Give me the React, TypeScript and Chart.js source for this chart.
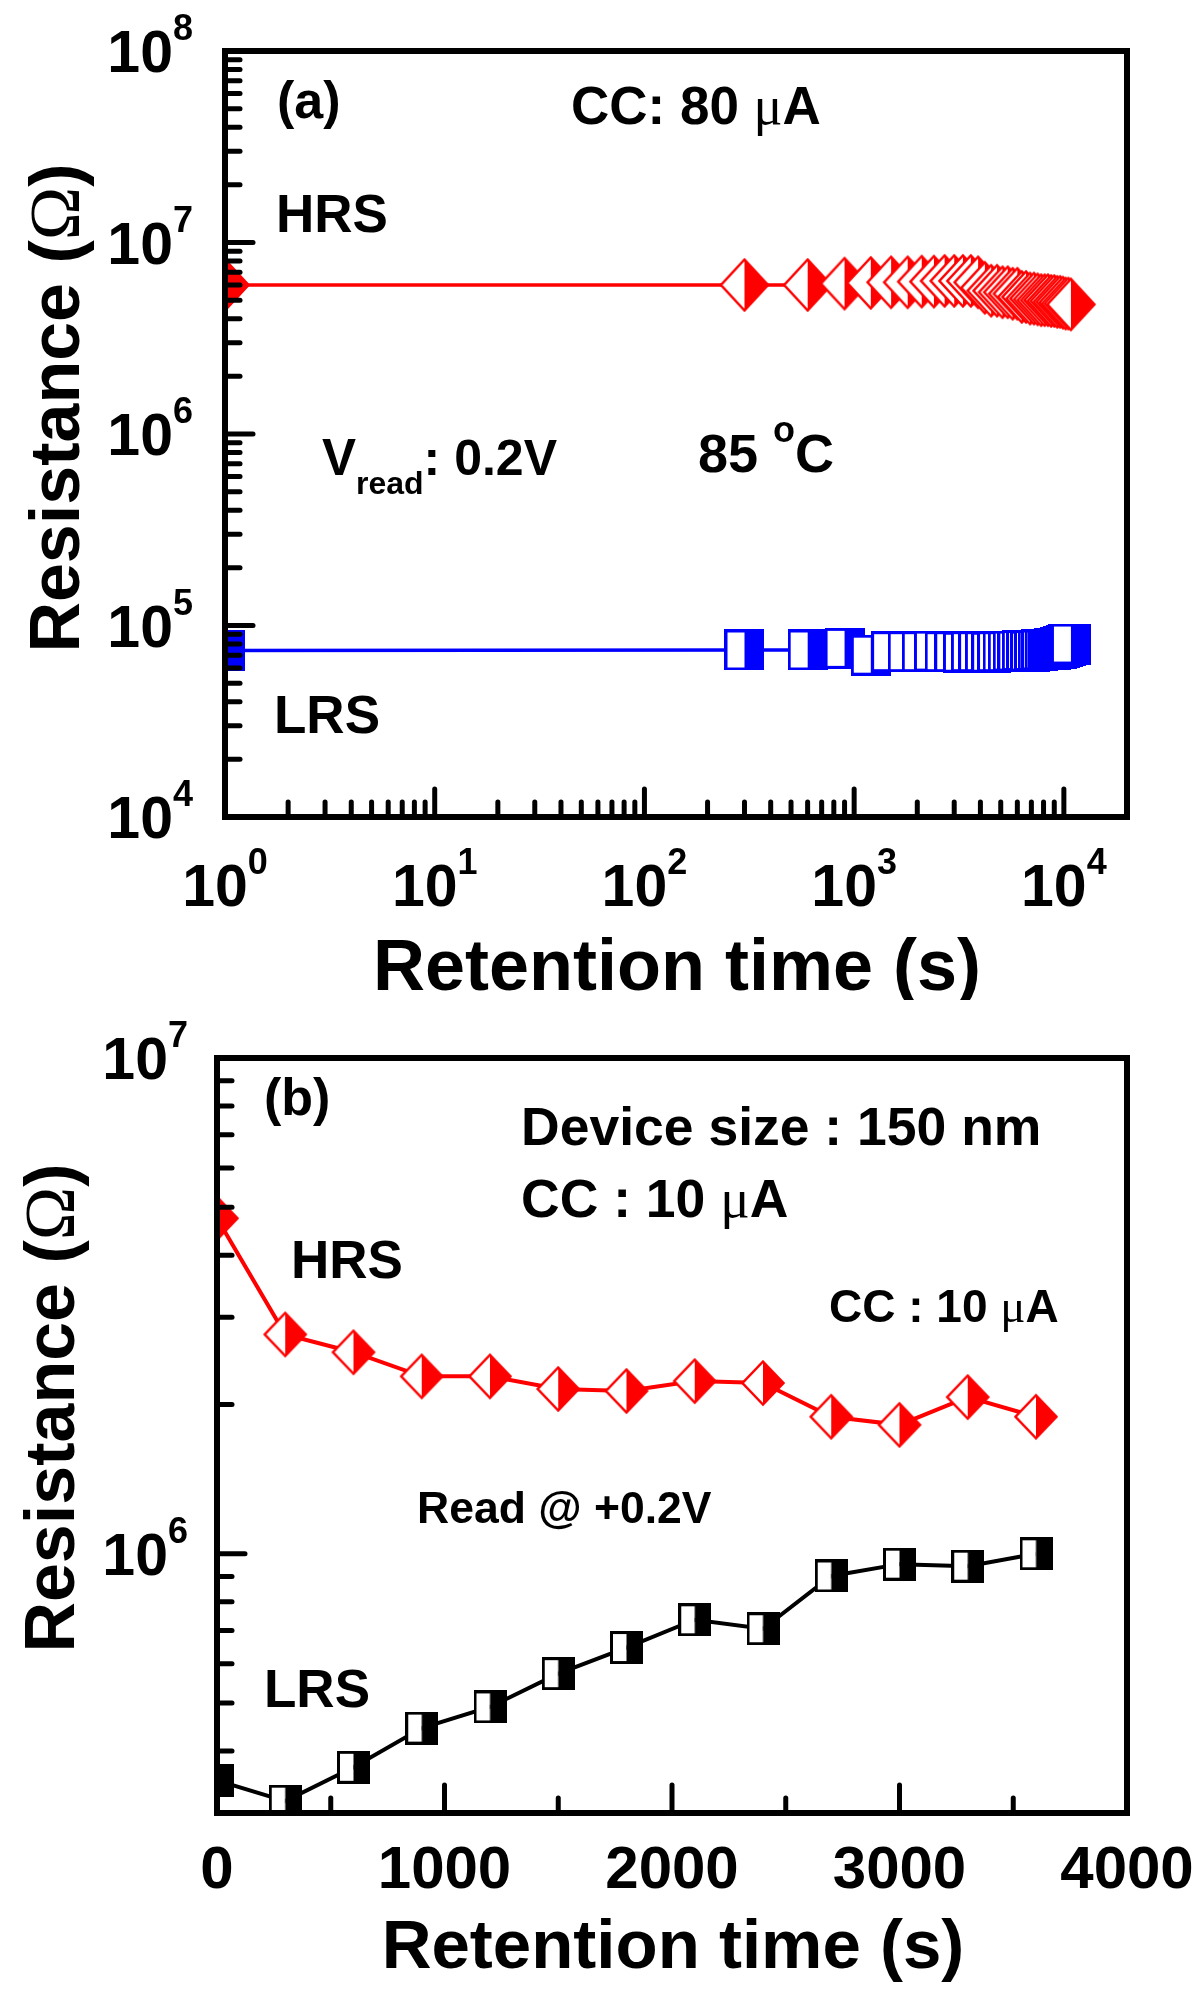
import React, { useEffect, useRef } from 'react';
import { Chart, registerables } from 'chart.js';

Chart.register(...registerables);

const SANS = '"Liberation Sans", Arial, Helvetica, sans-serif';
const SERIF = '"Liberation Serif", "Times New Roman", serif';

// ---------------- Panel (a) data ----------------
const timeA = [1, 300, 600, 900, 1200, 1500, 1800, 2100, 2400, 2700, 3000, 3300, 3600, 3900, 4200, 4500, 4800, 5100, 5400, 5700, 6000, 6300, 6600, 6900, 7200, 7500, 7800, 8100, 8400, 8700, 9000, 9300, 9600, 9900, 10200, 10500, 10800];
const hrsA = [6.0e6, 6.0e6, 6.0e6, 6.1e6, 6.15e6, 6.2e6, 6.2e6, 6.25e6, 6.25e6, 6.3e6, 6.3e6, 6.3e6, 6.3e6, 6.2e6, 5.8e6, 5.6e6, 5.6e6, 5.5e6, 5.5e6, 5.4e6, 5.4e6, 5.2e6, 5.2e6, 5.1e6, 5.1e6, 5.05e6, 5.0e6, 5.0e6, 5.0e6, 4.95e6, 4.95e6, 4.9e6, 4.9e6, 4.85e6, 4.8e6, 4.8e6, 4.75e6];
const lrsA = [7.4e4, 7.45e4, 7.45e4, 7.6e4, 7.0e4, 7.3e4, 7.3e4, 7.3e4, 7.35e4, 7.3e4, 7.3e4, 7.25e4, 7.3e4, 7.3e4, 7.3e4, 7.25e4, 7.3e4, 7.3e4, 7.3e4, 7.35e4, 7.35e4, 7.4e4, 7.4e4, 7.35e4, 7.4e4, 7.4e4, 7.45e4, 7.45e4, 7.5e4, 7.5e4, 7.55e4, 7.6e4, 7.7e4, 7.8e4, 7.9e4, 8.0e4, 8.0e4];

// axis (a)
const xRangeA = [1, 20000];
const yRangeA = [1e4, 1e8];
const xDecadesA = [0, 1, 2, 3, 4];
const yDecadesA = [4, 5, 6, 7, 8];
const minorMultipliers = [2, 3, 4, 5, 6, 7, 8, 9];

// ---------------- Panel (b) data ----------------
const timeB = [0, 300, 600, 900, 1200, 1500, 1800, 2100, 2400, 2700, 3000, 3300, 3600];
const hrsB = [4.75e6, 2.77e6, 2.55e6, 2.28e6, 2.28e6, 2.15e6, 2.13e6, 2.23e6, 2.21e6, 1.89e6, 1.82e6, 2.07e6, 1.89e6];
const lrsB = [3.49e5, 3.17e5, 3.71e5, 4.45e5, 4.91e5, 5.73e5, 6.47e5, 7.36e5, 7.06e5, 9.02e5, 9.53e5, 9.44e5, 1.0e6];

// axis (b)
const xRangeB = [0, 4000];
const yRangeB = [3e5, 1e7];
const xMajorB = [0, 1000, 2000, 3000, 4000];
const xMinorB = [500, 1500, 2500, 3500];
const yDecadesB = [6, 7];
const yMinorB = [4e5, 5e5, 6e5, 7e5, 8e5, 9e5, 2e6, 3e6, 4e6, 5e6, 6e6, 7e6, 8e6, 9e6];

type Seg = { t: string; font: string; dy?: number };

function makeDiamond(W: number, H: number, color: string, lw: number) {
  const c = document.createElement('canvas');
  c.width = Math.ceil(W);
  c.height = Math.ceil(H);
  const g = c.getContext('2d')!;
  const cx = W / 2, cy = H / 2, hw = W / 2 - lw, hh = H / 2 - lw;
  g.beginPath();
  g.moveTo(cx, cy - hh); g.lineTo(cx - hw, cy); g.lineTo(cx, cy + hh); g.closePath();
  g.fillStyle = '#ffffff'; g.fill();
  g.beginPath();
  g.moveTo(cx, cy - hh); g.lineTo(cx + hw, cy); g.lineTo(cx, cy + hh); g.closePath();
  g.fillStyle = color; g.fill();
  g.beginPath();
  g.moveTo(cx, cy - hh); g.lineTo(cx + hw, cy); g.lineTo(cx, cy + hh); g.lineTo(cx - hw, cy); g.closePath();
  g.strokeStyle = color; g.lineWidth = lw; g.lineJoin = 'miter'; g.stroke();
  return c;
}

function makeSquare(W: number, H: number, color: string, lw: number) {
  const c = document.createElement('canvas');
  c.width = Math.ceil(W);
  c.height = Math.ceil(H);
  const g = c.getContext('2d')!;
  const x0 = lw / 2, y0 = lw / 2, w = W - lw, h = H - lw;
  g.fillStyle = '#ffffff'; g.fillRect(x0, y0, w / 2, h);
  g.fillStyle = color; g.fillRect(x0 + w / 2, y0, w / 2, h);
  g.strokeStyle = color; g.lineWidth = lw; g.strokeRect(x0, y0, w, h);
  return c;
}

function richWidth(ctx: CanvasRenderingContext2D, segs: Seg[]) {
  let w = 0;
  for (const s of segs) { ctx.font = s.font; w += ctx.measureText(s.t).width; }
  return w;
}

function drawRich(ctx: CanvasRenderingContext2D, segs: Seg[], x: number, y: number, align: 'left' | 'center' | 'right' = 'left') {
  const total = richWidth(ctx, segs);
  let cx = align === 'left' ? x : align === 'center' ? x - total / 2 : x - total;
  ctx.textAlign = 'left';
  ctx.textBaseline = 'alphabetic';
  ctx.fillStyle = '#000';
  for (const s of segs) {
    ctx.font = s.font;
    ctx.fillText(s.t, cx, y + (s.dy || 0));
    cx += ctx.measureText(s.t).width;
  }
}

const B = (n: number) => `bold ${n}px ${SANS}`;
const Sym = (n: number) => `${n}px ${SERIF}`;

function powSegs(exp: string): Seg[] {
  return [{ t: '10', font: B(59) }, { t: exp, font: B(36), dy: -32 }];
}

type PanelSpec = {
  xMajor: number[];
  xMinor: number[];
  yMajor: number[];
  yMinor: number[];
  xLabels: { v: number; segs: Seg[] }[];
  yLabels: { v: number; segs: Seg[] }[];
  xLabelBaseline: number;
  yLabelRight: number;
  yTitleX: number;
  yTitleY: number;
  xTitleX: number;
  xTitleY: number;
  xTitleSize: number;
  notes: { x: number; y: number; segs: Seg[] }[];
};

function panelPlugin(spec: PanelSpec) {
  return {
    id: 'panelDecor',
    afterDatasetsDraw(chart: any) {
      const ctx: CanvasRenderingContext2D = chart.ctx;
      const { left, right, top, bottom } = chart.chartArea;
      const xs = chart.scales.x, ys = chart.scales.y;
      ctx.save();
      // inward ticks
      ctx.strokeStyle = '#000';
      ctx.lineWidth = 5;
      ctx.lineCap = 'round';
      const seg = (x1: number, y1: number, x2: number, y2: number) => {
        ctx.beginPath(); ctx.moveTo(x1, y1); ctx.lineTo(x2, y2); ctx.stroke();
      };
      for (const v of spec.xMajor) {
        const p = xs.getPixelForValue(v);
        if (p > left + 4 && p < right - 4) seg(p, bottom, p, bottom - 28);
      }
      for (const v of spec.xMinor) {
        const p = xs.getPixelForValue(v);
        if (p > left + 4 && p < right - 4) seg(p, bottom, p, bottom - 15);
      }
      for (const v of spec.yMajor) {
        const p = ys.getPixelForValue(v);
        if (p > top + 4 && p < bottom - 4) seg(left, p, left + 28, p);
      }
      for (const v of spec.yMinor) {
        const p = ys.getPixelForValue(v);
        if (p > top + 4 && p < bottom - 4) seg(left, p, left + 15, p);
      }
      // frame
      ctx.lineCap = 'butt';
      ctx.lineJoin = 'miter';
      ctx.lineWidth = 6;
      ctx.strokeRect(left, top, right - left, bottom - top);
      // tick labels
      for (const l of spec.xLabels) {
        drawRich(ctx, l.segs, xs.getPixelForValue(l.v), spec.xLabelBaseline, 'center');
      }
      for (const l of spec.yLabels) {
        drawRich(ctx, l.segs, spec.yLabelRight, ys.getPixelForValue(l.v) + 21, 'right');
      }
      // axis titles
      drawRich(ctx, [{ t: 'Retention time (s)', font: B(spec.xTitleSize) }], spec.xTitleX, spec.xTitleY, 'center');
      ctx.save();
      ctx.translate(spec.yTitleX, spec.yTitleY);
      ctx.rotate(-Math.PI / 2);
      drawRich(ctx, [{ t: 'Resistance (', font: B(70) }, { t: 'Ω', font: Sym(72) }, { t: ')', font: B(70) }], 0, 0, 'center');
      ctx.restore();
      // annotations
      for (const n of spec.notes) drawRich(ctx, n.segs, n.x, n.y, 'left');
      ctx.restore();
    },
  };
}

export default function App() {
  const refA = useRef<HTMLCanvasElement>(null);
  const refB = useRef<HTMLCanvasElement>(null);

  useEffect(() => {
    const diamondA = makeDiamond(52, 56, '#ff0000', 2.5);
    const squareA = makeSquare(40, 41, '#0000ff', 3);
    const diamondB = makeDiamond(46, 48, '#ff0000', 2.5);
    const squareB = makeSquare(33, 33, '#000000', 3);

    const specA: PanelSpec = {
      xMajor: xDecadesA.map((d) => Math.pow(10, d)),
      xMinor: xDecadesA.flatMap((d) => minorMultipliers.map((m) => m * Math.pow(10, d))),
      yMajor: yDecadesA.map((d) => Math.pow(10, d)),
      yMinor: yDecadesA.flatMap((d) => minorMultipliers.map((m) => m * Math.pow(10, d))),
      xLabels: xDecadesA.map((d) => ({ v: Math.pow(10, d), segs: powSegs(String(d)) })),
      yLabels: yDecadesA.map((d) => ({ v: Math.pow(10, d), segs: powSegs(String(d)) })),
      xLabelBaseline: 906,
      yLabelRight: 193,
      yTitleX: 79,
      yTitleY: 408,
      xTitleX: 677,
      xTitleY: 990,
      xTitleSize: 72,
      notes: [
        { x: 277, y: 118, segs: [{ t: '(a)', font: B(52) }] },
        { x: 571, y: 124, segs: [{ t: 'CC: 80 ', font: B(53) }, { t: 'μ', font: Sym(54) }, { t: 'A', font: B(53) }] },
        { x: 276, y: 232, segs: [{ t: 'HRS', font: B(53) }] },
        { x: 322, y: 475, segs: [{ t: 'V', font: B(51) }, { t: 'read', font: B(32), dy: 19 }, { t: ': 0.2V', font: B(50) }] },
        { x: 698, y: 472, segs: [{ t: '85 ', font: B(54) }, { t: 'o', font: B(36), dy: -30 }, { t: 'C', font: B(54) }] },
        { x: 274, y: 733, segs: [{ t: 'LRS', font: B(53) }] },
      ],
    };

    const specB: PanelSpec = {
      xMajor: xMajorB,
      xMinor: xMinorB,
      yMajor: yDecadesB.map((d) => Math.pow(10, d)),
      yMinor: yMinorB,
      xLabels: xMajorB.map((v) => ({ v, segs: [{ t: String(v), font: B(60) }] })),
      yLabels: yDecadesB.map((d) => ({ v: Math.pow(10, d), segs: powSegs(String(d)) })),
      xLabelBaseline: 888,
      yLabelRight: 188,
      yTitleX: 74,
      yTitleY: 408,
      xTitleX: 673,
      xTitleY: 968,
      xTitleSize: 69,
      notes: [
        { x: 264, y: 115, segs: [{ t: '(b)', font: B(52) }] },
        { x: 521, y: 145, segs: [{ t: 'Device size : 150 nm', font: B(53.5) }] },
        { x: 521, y: 217, segs: [{ t: 'CC : 10 ', font: B(53.5) }, { t: 'μ', font: Sym(55) }, { t: 'A', font: B(53.5) }] },
        { x: 291, y: 278, segs: [{ t: 'HRS', font: B(53) }] },
        { x: 829, y: 322, segs: [{ t: 'CC : 10 ', font: B(46) }, { t: 'μ', font: Sym(47) }, { t: 'A', font: B(46) }] },
        { x: 417, y: 523, segs: [{ t: 'Read @ +0.2V', font: B(44.5) }] },
        { x: 264, y: 707, segs: [{ t: 'LRS', font: B(53) }] },
      ],
    };

    const chartA = new Chart(refA.current!, {
      type: 'line',
      data: {
        datasets: [
          {
            label: 'HRS',
            data: timeA.map((t, i) => ({ x: t, y: hrsA[i] })),
            borderColor: '#ff0000',
            borderWidth: 3.5,
            pointStyle: diamondA as any,
            pointRadius: 26,
            tension: 0,
          },
          {
            label: 'LRS',
            data: timeA.map((t, i) => ({ x: t, y: lrsA[i] })),
            borderColor: '#0000ff',
            borderWidth: 3.5,
            pointStyle: squareA as any,
            pointRadius: 20,
            tension: 0,
          },
        ],
      },
      options: {
        responsive: false,
        animation: false,
        devicePixelRatio: 1,
        events: [],
        layout: { padding: { left: 225, top: 51, right: 73, bottom: 183 } },
        plugins: { legend: { display: false }, tooltip: { enabled: false } },
        scales: {
          x: { type: 'logarithmic', min: xRangeA[0], max: xRangeA[1], display: false },
          y: { type: 'logarithmic', min: yRangeA[0], max: yRangeA[1], display: false },
        },
      },
      plugins: [panelPlugin(specA)],
    } as any);

    const chartB = new Chart(refB.current!, {
      type: 'line',
      data: {
        datasets: [
          {
            label: 'HRS',
            data: timeB.map((t, i) => ({ x: t, y: hrsB[i] })),
            borderColor: '#ff0000',
            borderWidth: 4,
            pointStyle: diamondB as any,
            pointRadius: 23,
            tension: 0,
          },
          {
            label: 'LRS',
            data: timeB.map((t, i) => ({ x: t, y: lrsB[i] })),
            borderColor: '#000000',
            borderWidth: 4,
            pointStyle: squareB as any,
            pointRadius: 17,
            tension: 0,
          },
        ],
      },
      options: {
        responsive: false,
        animation: false,
        devicePixelRatio: 1,
        events: [],
        layout: { padding: { left: 217, top: 58, right: 73, bottom: 178 } },
        plugins: { legend: { display: false }, tooltip: { enabled: false } },
        scales: {
          x: { type: 'linear', min: xRangeB[0], max: xRangeB[1], display: false },
          y: { type: 'logarithmic', min: yRangeB[0], max: yRangeB[1], display: false },
        },
      },
      plugins: [panelPlugin(specB)],
    } as any);

    return () => {
      chartA.destroy();
      chartB.destroy();
    };
  }, []);

  return (
    <div style={{ position: 'absolute', left: 0, top: 0, width: 1200, height: 1991, background: '#ffffff' }}>
      <canvas ref={refA} width={1200} height={1000} style={{ position: 'absolute', left: 0, top: 0, width: 1200, height: 1000 }} />
      <canvas ref={refB} width={1200} height={991} style={{ position: 'absolute', left: 0, top: 1000, width: 1200, height: 991 }} />
    </div>
  );
}
